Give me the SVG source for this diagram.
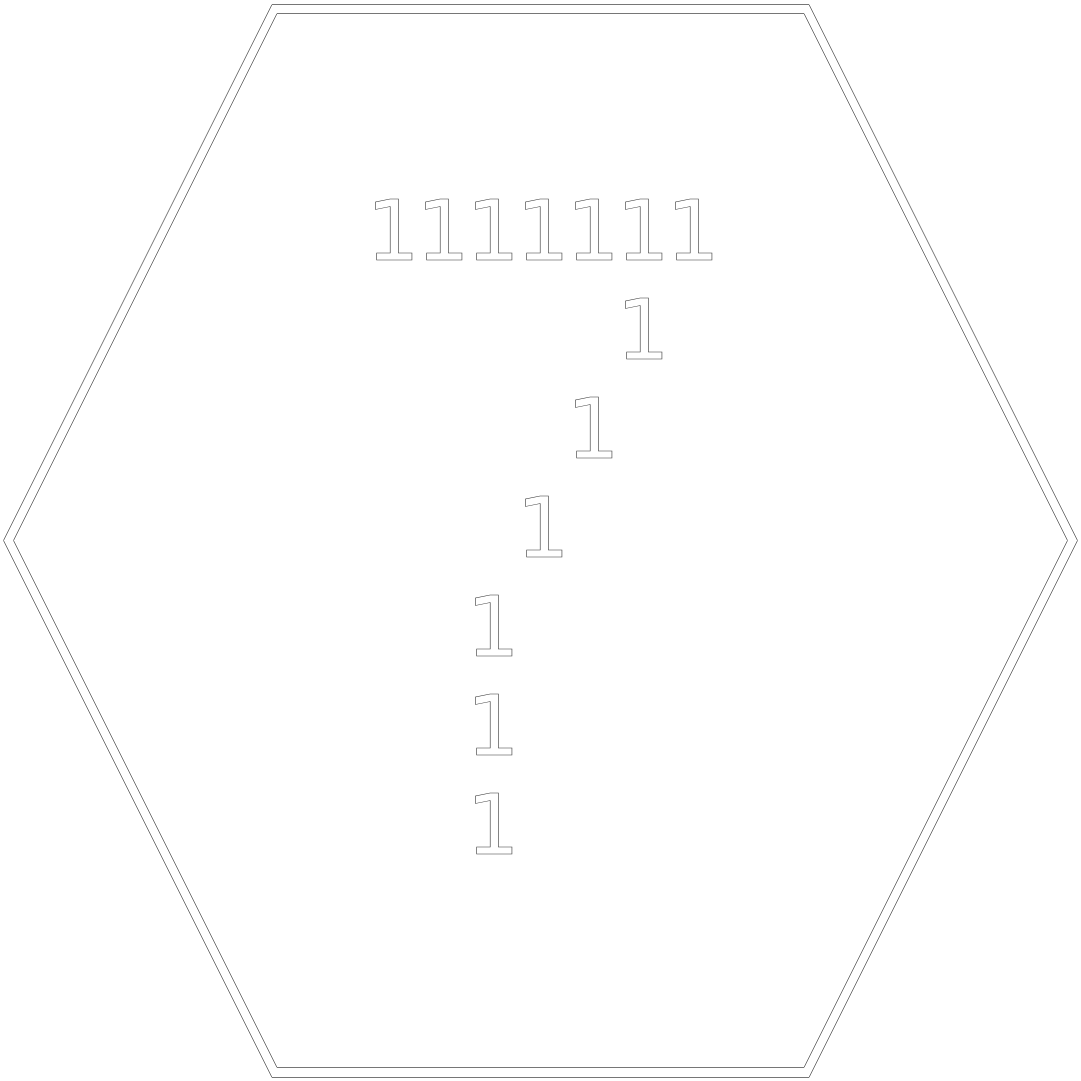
<svg xmlns="http://www.w3.org/2000/svg" width="1081" height="1081" viewBox="0 0 1081 1081">
<style>
.hex{fill:none;stroke:#666;stroke-width:0.9}
.one{font-family:"DejaVu Sans",sans-serif;font-size:84px;fill:#fff;stroke:#333;stroke-width:0.6;text-anchor:middle}
</style>
<rect width="1081" height="1081" fill="#fff"/>
<g id="frame">
<polygon class="hex" points="272,4.5 809,4.5 1077.5,540.5 809,1077.5 272,1077.5 3.5,540.5"/>
<polygon class="hex" points="277,13.5 804,13.5 1067.5,540.5 804,1067.5 277,1067.5 13.5,540.5"/>
</g>
<g id="digits">
<text class="one" x="393" y="260">1</text>
<text class="one" x="443" y="260">1</text>
<text class="one" x="493" y="260">1</text>
<text class="one" x="543" y="260">1</text>
<text class="one" x="593" y="260">1</text>
<text class="one" x="643" y="260">1</text>
<text class="one" x="693" y="260">1</text>
<text class="one" x="643" y="359">1</text>
<text class="one" x="593" y="458">1</text>
<text class="one" x="543" y="557">1</text>
<text class="one" x="493" y="656">1</text>
<text class="one" x="493" y="755">1</text>
<text class="one" x="493" y="854">1</text>
</g>
</svg>
